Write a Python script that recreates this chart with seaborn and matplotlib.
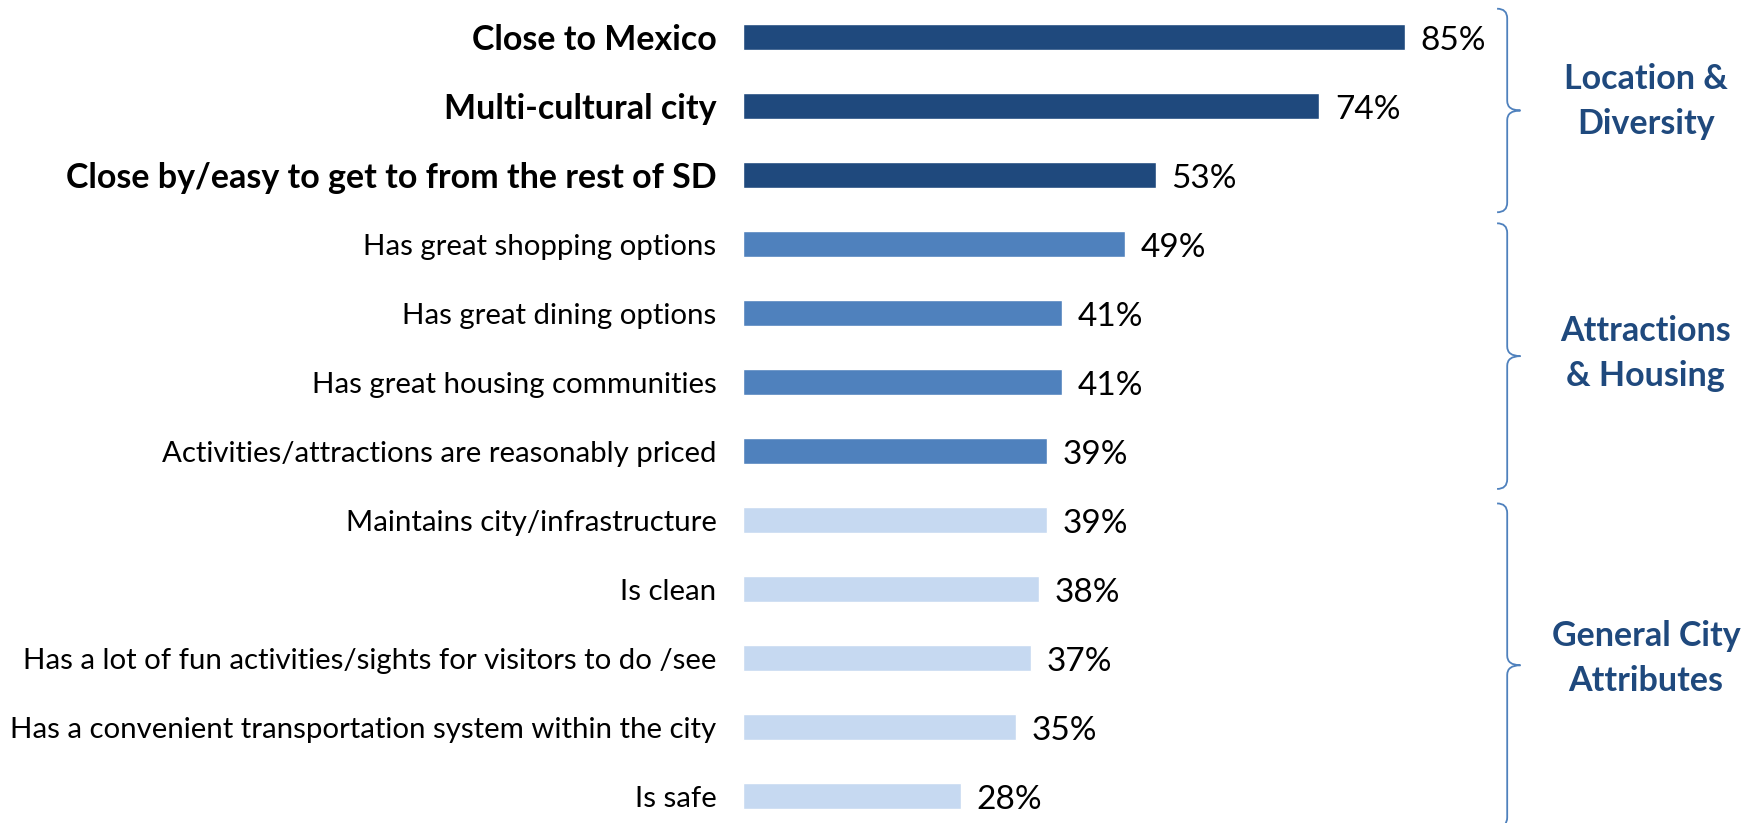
import matplotlib
matplotlib.use("Agg")
import matplotlib.pyplot as plt
from matplotlib.path import Path
from matplotlib.patches import PathPatch
import seaborn as sns
import pandas as pd

# Survey attributes, top to bottom
categories = [
    "Close to Mexico",
    "Multi-cultural city",
    "Close by/easy to get to from the rest of SD",
    "Has great shopping options",
    "Has great dining options",
    "Has great housing communities",
    "Activities/attractions are reasonably priced",
    "Maintains city/infrastructure",
    "Is clean",
    "Has a lot of fun activities/sights for visitors to do /see",
    "Has a convenient transportation system within the city",
    "Is safe",
]
values = [85, 74, 53, 49, 41, 41, 39, 39, 38, 37, 35, 28]
groups = ["Location & Diversity"] * 3 + ["Attractions & Housing"] * 4 + ["General City Attributes"] * 5
group_titles = ["Location &\nDiversity", "Attractions\n& Housing", "General City\nAttributes"]
group_names = ["Location & Diversity", "Attractions & Housing", "General City Attributes"]
group_colors = ["#1F497D", "#4F81BD", "#C6D9F1"]
bold_categories = categories[:3]

df = pd.DataFrame({"category": categories, "value": values, "group": groups})

sns.set_theme(style="white")
plt.rcParams["font.family"] = ["Lato", "DejaVu Sans"]

fig = plt.figure(figsize=(17.5, 8.23), dpi=100)
W, H = 1750, 823
x0_px, px_per_pct = 743, 7.79
top_px, bottom_px = 2.5, 830.5
ax = fig.add_axes([x0_px / W, 1 - bottom_px / H, 100 * px_per_pct / W, (bottom_px - top_px) / H])

sns.barplot(
    data=df, y="category", x="value", hue="group", order=categories,
    hue_order=group_names, palette=dict(zip(group_names, group_colors)),
    orient="h", dodge=False, width=0.39, saturation=1, legend=False, ax=ax,
)
ax.set_xlim(0, 100)
ax.set_ylim(len(categories) - 0.5, -0.5)
ax.set_xlabel("")
ax.set_ylabel("")
ax.set_xticks([])
for s in ax.spines.values():
    s.set_visible(False)

ax.tick_params(axis="y", length=0, pad=19)
for lbl in ax.get_yticklabels():
    if lbl.get_text() in bold_categories:
        lbl.set_fontweight("bold")
        lbl.set_fontsize(24.5)
    else:
        lbl.set_fontsize(21.2)
    lbl.set_color("black")

# value labels at bar ends
for i, v in enumerate(values):
    ax.text(v + 2.0, i + 0.06, f"{v}%", va="center", ha="left", fontsize=24, color="black")

# curly braces grouping the attributes (vertical extents in row units)
brace_color = "#4F81BD"
brace_extents = [(-0.41, 2.54), (2.70, 6.55), (6.76, 11.45)]
bx = 98.1
wl, wr, h = 1.3, 1.7, 0.14
title_y = [0.94, 4.59, 9.0]
for (yt, yb), title, ty in zip(brace_extents, group_titles, title_y):
    ym = (yt + yb) / 2
    verts = [
        (bx - wl, yt), (bx, yt), (bx, yt + h),
        (bx, ym - h),
        (bx, ym), (bx + wr, ym),
        (bx, ym), (bx, ym + h),
        (bx, yb - h),
        (bx, yb), (bx - wl, yb),
    ]
    codes = [Path.MOVETO, Path.CURVE3, Path.CURVE3, Path.LINETO,
             Path.CURVE3, Path.CURVE3, Path.CURVE3, Path.CURVE3,
             Path.LINETO, Path.CURVE3, Path.CURVE3]
    ax.add_patch(PathPatch(Path(verts, codes), fill=False, edgecolor=brace_color,
                           lw=1.3, clip_on=False))
    ax.text(115.9, ty, title, ha="center", va="center", fontsize=24.5,
            fontweight="bold", color="#1F497D", linespacing=1.5, clip_on=False)

fig.savefig("out.png", dpi=100)
